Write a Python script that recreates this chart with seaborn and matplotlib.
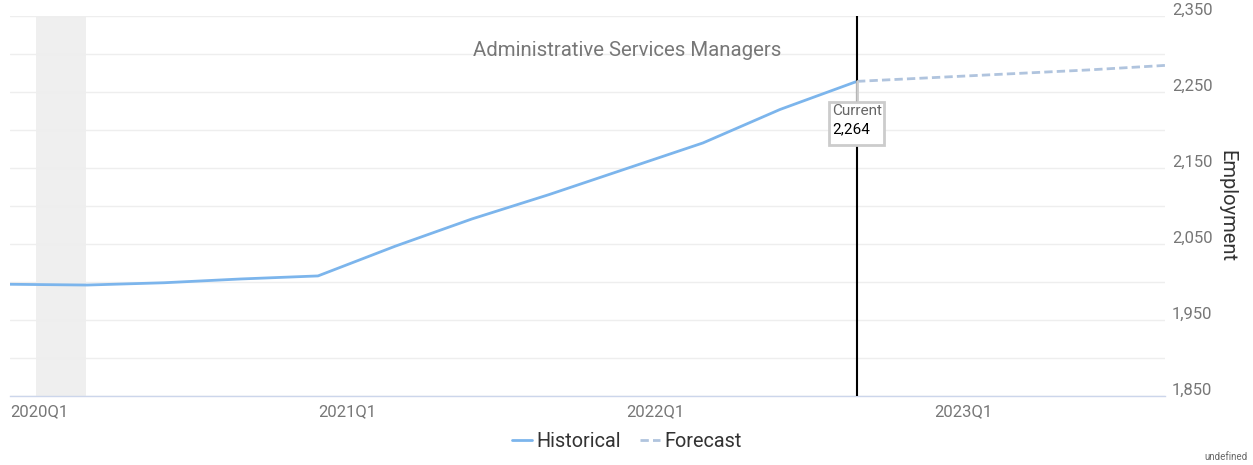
import pandas as pd
import matplotlib.pyplot as plt
import matplotlib.transforms as mtransforms
import seaborn as sns

sns.set_style("white")
plt.rcParams["font.family"] = ["Roboto", "DejaVu Sans"]

# ---------------------------------------------------
# data
# ---------------------------------------------------
quarters = ["2020Q1", "2020Q2", "2020Q3", "2020Q4",
            "2021Q1", "2021Q2", "2021Q3", "2021Q4",
            "2022Q1", "2022Q2", "2022Q3", "2022Q4",
            "2023Q1", "2023Q2", "2023Q3", "2023Q4"]
historical = [1997, 1996, 1999, 2004, 2008, 2047, 2083, 2115, 2149, 2183, 2227, 2264]
forecast = [2264, 2269, 2274, 2279, 2285]
current_label = "2,264"
tick_quarters = ["2020Q1", "2021Q1", "2022Q1", "2023Q1"]
recession = (0.34, 0.99)  # in quarter index units

hist_df = pd.DataFrame({"idx": range(len(historical)), "value": historical})
fc_start = len(historical) - 1
fc_df = pd.DataFrame({"idx": range(fc_start, fc_start + len(forecast)), "value": forecast})

HIST_COLOR = "#7cb5ec"
FC_COLOR = "#b0c4de"

fig = plt.figure(figsize=(12.53, 4.65), dpi=100)
ax = fig.add_axes([10 / 1253, 1 - 396 / 465, 1155 / 1253, 380 / 465])

ax.axvspan(recession[0], recession[1], color="#efefef", zorder=0, lw=0)

sns.lineplot(data=hist_df, x="idx", y="value", ax=ax, color=HIST_COLOR, lw=2,
             label="Historical", zorder=3)
sns.lineplot(data=fc_df, x="idx", y="value", ax=ax, color=FC_COLOR, lw=2,
             linestyle=(0, (3, 1.5)), label="Forecast", zorder=3)

ax.set_xlim(0, len(quarters) - 1)
ax.set_ylim(1850, 2350)

# current marker
ax.axvline(fc_start, color="black", lw=1.5, zorder=4)
ax.plot([fc_start, fc_start], [historical[-1], 2239], color="#cccccc", lw=2, zorder=5)
ax.annotate("Current", xy=(fc_start, 2225), xytext=(-25, 0), textcoords="offset pixels",
            ha="left", va="center", fontsize=11, color="#666666", zorder=7)
ax.annotate(current_label, xy=(fc_start, 2201), xytext=(-25, 0), textcoords="offset pixels",
            ha="left", va="center", fontsize=11, color="black", zorder=7)
box = plt.Rectangle((fc_start - 28 / 77, 2180), 55 / 77, 57, transform=ax.transData,
                    facecolor="white", edgecolor="#cccccc", lw=2, zorder=6)
ax.add_patch(box)

# grid / axes
ax.set_yticks(range(1850, 2351, 100))
ax.set_yticks(range(1900, 2351, 100), minor=True)
ax.yaxis.grid(True, which="both", color="#eeeeee", lw=1)
ax.yaxis.tick_right()
ax.set_yticklabels([f"{v:,}" for v in range(1850, 2351, 100)])
ax.tick_params(axis="y", which="both", length=0, pad=5, labelsize=12, labelcolor="#777777")
offset = mtransforms.ScaledTranslation(0, 7 / 100, fig.dpi_scale_trans)
for lab in ax.get_yticklabels():
    lab.set_transform(lab.get_transform() + offset)

ax.set_xticks([quarters.index(q) for q in tick_quarters])
ax.set_xticklabels(tick_quarters, ha="left")
ax.tick_params(axis="x", length=6, width=1, color="#ccd6eb", labelsize=12,
               labelcolor="#777777", pad=0)
for s in ["top", "left", "right"]:
    ax.spines[s].set_visible(False)
ax.spines["bottom"].set_color("#ccd6eb")
ax.spines["bottom"].set_linewidth(1)

ax.set_xlabel("")
ax.yaxis.set_label_position("right")
ax.set_ylabel("Employment", rotation=270, fontsize=14.5, color="#333333", labelpad=17)

ax.text(0.534, 0.91, "Administrative Services Managers", transform=ax.transAxes,
        ha="center", va="center", fontsize=14.7, color="#777777")

ax.legend(loc="upper center", bbox_to_anchor=(627 / 1253, 0.11), bbox_transform=fig.transFigure,
          ncol=2, frameon=False, fontsize=14.3, handlelength=1.0, handletextpad=0.2,
          columnspacing=1.0, labelcolor="#333333")

fig.text(1248 / 1253, 8 / 465, "undefined", ha="right", va="center", fontsize=7, color="#666666")

fig.savefig("out.png", dpi=100)
